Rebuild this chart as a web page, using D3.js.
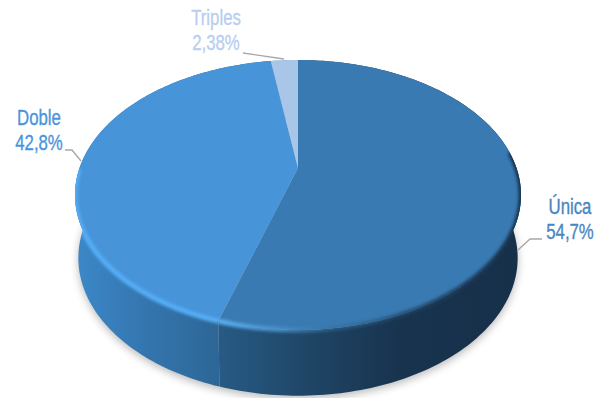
<!DOCTYPE html>
<html><head><meta charset="utf-8">
<style>html,body{margin:0;background:#fff}svg{display:block}</style>
<script src="https://cdn.jsdelivr.net/npm/d3@7"></script>
</head><body><svg id="c" width="608" height="398"></svg>
<script>
const categories = ["Única", "Doble", "Triples"];
const values = [54.7, 42.8, 2.38];
const valueLabels = ["54,7%", "42,8%", "2,38%"];

const topColors = ["#397ab2", "#4894d8", "#a9c5e8"];
const textColors = ["#4a86c2", "#4b94dc", "#b7cff0"];
const wallStops = [
  [["0", "#275a85"], ["0.3", "#1f4565"], ["0.6", "#18334e"], ["1", "#17304a"]],
  [["0", "#3c88c8"], ["0.5", "#3475ae"], ["1", "#2d6696"]],
  [["0", "#8aa8cc"], ["1", "#8aa8cc"]]
];

// Label anchors and leader polylines
const labelPlacement = [
  {x: 570, y: 214, line: [[518, 250], [530, 239], [542, 239]]},
  {x: 39, y: 125, line: [[81, 161], [72, 150], [65, 150]]},
  {x: 216, y: 25, line: [[284, 59], [243, 53]]}
];

// Perspective view of the disc: unit-circle coordinates to screen coordinates
const view = {cx: 298, cy: 168, a: 218.5, b: 129.6, k: 0.2, depth: 63, shrinkX: 0.985, shrinkY: 1.02};
function rim(theta, lower) {
  const u = Math.sin(theta), v = Math.cos(theta), w = 1 + view.k * v;
  const x = view.a * u / w, y = -view.b * v / w;
  if (!lower) return [view.cx + x, view.cy + y];
  const ecy = 27; // centre of the projected ellipse relative to the apex
  return [view.cx + x * view.shrinkX, view.cy + ecy + (y - ecy) * view.shrinkY + view.depth];
}
const arcPts = (a0, a1, lower) => {
  const n = Math.max(2, Math.ceil((a1 - a0) / 0.02));
  return d3.range(n + 1).map(i => rim(a0 + (a1 - a0) * i / n, lower));
};
const pathLine = d3.line();

const svg = d3.select("#c");
const defs = svg.append("defs");
[["soft", 4.5], ["bevel", 1.6]].forEach(([id, s]) => {
  defs.append("filter").attr("id", id)
    .attr("x", -0.2).attr("y", -0.2).attr("width", 1.4).attr("height", 1.4)
    .append("feGaussianBlur").attr("stdDeviation", s);
});

const slices = d3.pie().sort(null).value(d => d)(values);
const wallPath = d => pathLine(arcPts(d.startAngle, d.endAngle, false)
  .concat(arcPts(d.startAngle, d.endAngle, true).reverse())) + "Z";

wallStops.forEach((stops, i) => {
  const xs = arcPts(slices[i].startAngle, slices[i].endAngle, false).map(p => p[0]);
  const g = defs.append("linearGradient").attr("id", "wall" + i)
    .attr("gradientUnits", "userSpaceOnUse")
    .attr("x1", i === 0 ? 220 : d3.min(xs)).attr("x2", i === 0 ? d3.max(xs) : 220)
    .attr("y1", 0).attr("y2", 0);
  g.selectAll("stop").data(stops).join("stop")
    .attr("offset", d => d[0]).attr("stop-color", d => d[1]);
});

// Ground shadow
svg.append("path").attr("d", pathLine(arcPts(0, 2 * Math.PI, true)) + "Z")
  .attr("fill", "#000").attr("opacity", 0.27).attr("filter", "url(#soft)")
  .attr("transform", "translate(0,3)");

// Side walls
svg.append("g").selectAll("path").data(slices).join("path")
  .attr("d", wallPath)
  .attr("fill", (d, i) => `url(#wall${i})`);

// Top faces
const discPath = pathLine(arcPts(0, 2 * Math.PI, false)) + "Z";
svg.append("g").selectAll("path").data(slices).join("path")
  .attr("d", d => pathLine([[view.cx, view.cy]].concat(arcPts(d.startAngle, d.endAngle, false))) + "Z")
  .attr("fill", (d, i) => topColors[i]);

// Bevel along the front rim, kept inside the solid's outline
const solid = defs.append("clipPath").attr("id", "solid");
solid.append("path").attr("d", discPath);
slices.forEach(d => solid.append("path").attr("d", wallPath(d)));

const bevelGrad = defs.append("linearGradient").attr("id", "bevelU")
  .attr("gradientUnits", "userSpaceOnUse").attr("x1", 220).attr("x2", 521).attr("y1", 0).attr("y2", 0);
[["0", "#5aaeee", 1], ["0.2", "#4b94cc", 0.85], ["0.4", "#2f6a9a", 0.55], ["0.6", "#1f4465", 0.75], ["1", "#17304a", 1]]
  .forEach(s => bevelGrad.append("stop").attr("offset", s[0]).attr("stop-color", s[1]).attr("stop-opacity", s[2]));

const bevel = svg.append("g").attr("clip-path", "url(#solid)");
bevel.append("path")
  .attr("d", pathLine(arcPts(slices[1].startAngle, 4.7, false)))
  .attr("fill", "none").attr("stroke", "#54adf7").attr("stroke-width", 5).attr("filter", "url(#bevel)");
bevel.append("path")
  .attr("d", pathLine(arcPts(1.45, slices[0].endAngle, false)))
  .attr("fill", "none").attr("stroke", "url(#bevelU)").attr("stroke-width", 5).attr("filter", "url(#bevel)");

// Leader lines
svg.append("g").selectAll("path").data(labelPlacement).join("path")
  .attr("d", d => pathLine(d.line)).attr("fill", "none").attr("stroke", "#a8a8a8").attr("stroke-width", 1.4);

// Labels: tall, narrow type
const labels = svg.append("g").attr("font-family", "Liberation Sans, Arial, sans-serif")
  .attr("font-size", 21.5).attr("text-anchor", "middle").attr("stroke-width", 0.35);
categories.forEach((c, i) => {
  const p = labelPlacement[i];
  const g = labels.append("g").attr("transform", `translate(${p.x},${p.y}) scale(0.78,1)`)
    .attr("fill", textColors[i]).attr("stroke", textColors[i]);
  g.append("text").text(c);
  g.append("text").attr("y", 25).text(valueLabels[i]);
});
</script></body></html>
